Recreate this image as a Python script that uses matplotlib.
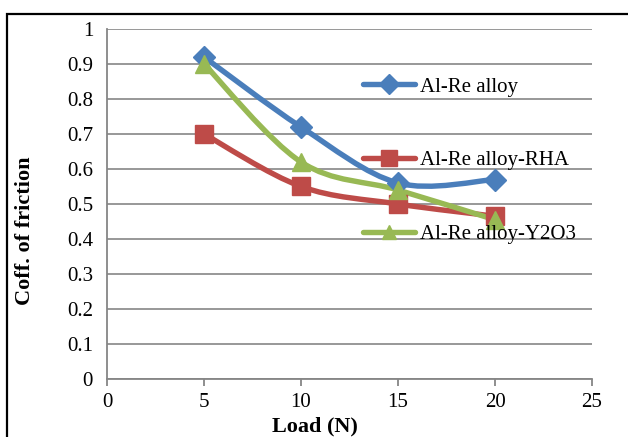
import numpy as np
import matplotlib as mpl
mpl.use('Agg')
import matplotlib.pyplot as plt
from matplotlib.path import Path
from matplotlib.patches import PathPatch, Rectangle
from matplotlib.lines import Line2D

# 荷重 (N)
load = [5, 10, 15, 20]
# 摩擦係数
al_re = [0.92, 0.72, 0.56, 0.57]
al_re_rha = [0.70, 0.55, 0.50, 0.465]
al_re_y2o3 = [0.90, 0.62, 0.54, 0.455]

names = ['Al-Re alloy', 'Al-Re alloy-RHA', 'Al-Re alloy-Y2O3']
colors = ['#4A7EBB', '#BE4B48', '#98B954']
markers = ['D', 's', '^']
msizes = [11.5, 13, 12.5]

plt.rcParams['font.family'] = ['Liberation Serif', 'DejaVu Serif']


def smooth_path(xs, ys, t=1.0 / 6):
    # Excel風のスムージング (Catmull-Rom -> Bezier)
    p = np.column_stack([xs, ys]).astype(float)
    n = len(p)
    verts = [p[0]]
    codes = [Path.MOVETO]
    for i in range(n - 1):
        p0 = p[i - 1] if i > 0 else p[i]
        p3 = p[i + 2] if i + 2 < n else p[i + 1]
        c1 = p[i] + (p[i + 1] - p0) * t
        c2 = p[i + 1] - (p3 - p[i]) * t
        verts += [c1, c2, p[i + 1]]
        codes += [Path.CURVE4] * 3
    return Path(verts, codes)


fig = plt.figure(figsize=(6.28, 4.37), dpi=100)
ax = fig.add_axes([107 / 628, 1 - 379 / 437, (592 - 107) / 628, (379 - 29) / 437])

handles = []
for ys, name, c, m, ms in zip([al_re, al_re_rha, al_re_y2o3], names, colors, markers, msizes):
    ax.add_patch(PathPatch(smooth_path(load, ys), fill=False, edgecolor=c,
                           lw=3.9, capstyle='round', joinstyle='round', zorder=3))
    ax.plot(load, ys, linestyle='none', marker=m, ms=ms, color=c, mec=c, zorder=4)
    handles.append(Line2D([], [], color=c, lw=3.9, marker=m, ms=ms * 0.85,
                          solid_capstyle='round'))

ax.set_xlim(0, 25)
ax.set_ylim(0, 1)
ax.set_xticks(range(0, 26, 5))
ax.set_yticks(np.arange(0, 1.01, 0.1))
ax.set_yticklabels(['0'] + [f'{v:.1f}' for v in np.arange(0.1, 0.95, 0.1)] + ['1'])
ax.grid(axis='y', color='#868686', lw=1.2)
ax.set_axisbelow(True)
for s in ['top', 'right']:
    ax.spines[s].set_visible(False)
for s in ['left', 'bottom']:
    ax.spines[s].set_color('#868686')
    ax.spines[s].set_linewidth(1.3)
ax.tick_params(axis='x', direction='out', length=5, width=1.3, color='#868686',
               labelsize=15, pad=5)
ax.tick_params(axis='y', length=0, labelsize=15, pad=10)

ax.set_xlabel('Load (N)', fontsize=16, fontweight='bold')
ax.xaxis.set_label_coords((315 - 107) / 485, -(426 - 379) / 350)
ax.xaxis.label.set_va('center')
ax.set_ylabel('Coff. of friction', fontsize=16, fontweight='bold')
ax.yaxis.set_label_coords((25 - 107) / 485, (379 - 231) / 350)
ax.yaxis.label.set_va('center')

leg = ax.legend(handles, names, loc='upper left', frameon=False, fontsize=15,
                bbox_to_anchor=((363 - 107) / 485, (379 - 77) / 350),
                handlelength=2.5, handletextpad=0.25, labelspacing=2.6,
                borderaxespad=0, borderpad=0)

# 外枠
fig.patches.append(Rectangle((7 / 628, -0.05), 1.0, 1 - 14 / 437 + 0.05,
                             transform=fig.transFigure, fill=False,
                             edgecolor='black', lw=1.6))

plt.savefig('out.png', dpi=100)
